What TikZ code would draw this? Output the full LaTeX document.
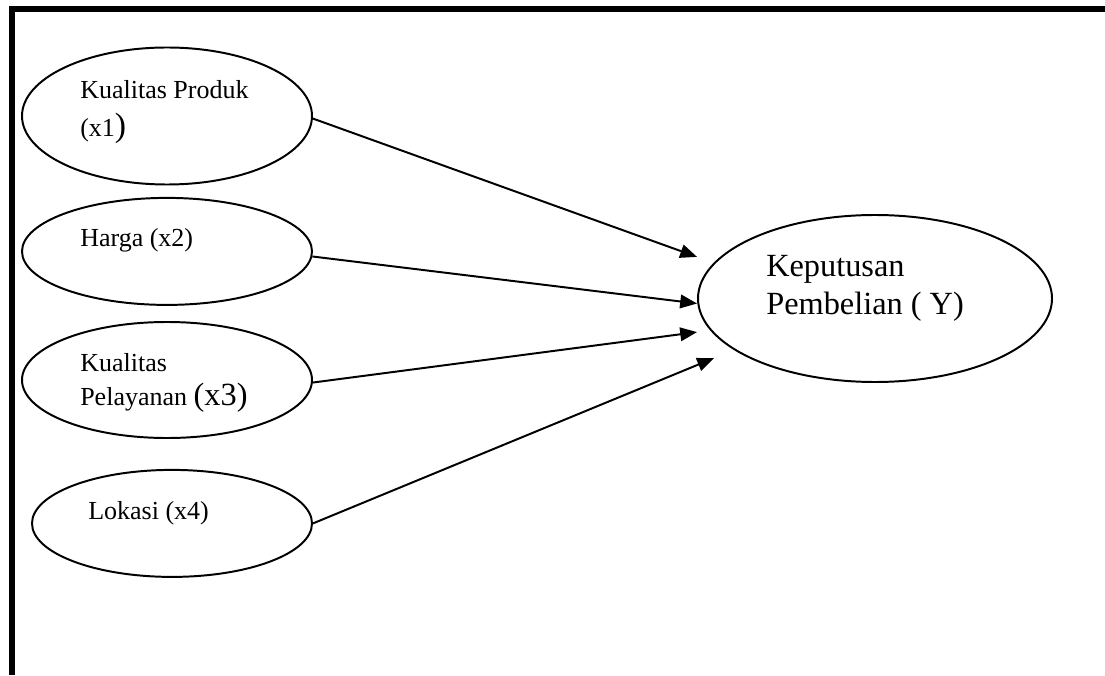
\documentclass[tikz,border=0pt]{standalone}
\usepackage{fontspec}
\setmainfont{Liberation Serif}
\usetikzlibrary{
    arrows.meta,
    shapes,
    calc,
    positioning
}
\tikzset{varnode/.style={ellipse, draw=black, line width=1.4pt, inner sep=0pt}}
\tikzset{lbl/.style={anchor=base west, inner sep=0pt, align=left, font=\fontsize{18.5}{24}\selectfont}}
\tikzset{biglbl/.style={anchor=base west, inner sep=0pt, align=left, font=\fontsize{23}{27}\selectfont}}
\tikzset{arr/.style={line width=1.4pt, -{Triangle[length=0.42cm, width=0.34cm]}}}

\begin{document}
\begin{tikzpicture}
                        \useasboundingbox (0, 0) rectangle (27.625, 16.875);

                        % frame
                        \draw[line width=4.3pt] (0.29, 0) -- (0.29, 16.64) -- (27.625, 16.64);

                        \node[varnode, minimum width=7.25cm, minimum height=3.425cm] (k1) at (4.175, 13.975) {};
                        \node[varnode, minimum width=7.25cm, minimum height=2.675cm] (k2) at (4.175, 10.59) {};
                        \node[varnode, minimum width=7.25cm, minimum height=2.9cm] (k3) at (4.175, 7.375) {};
                        \node[varnode, minimum width=7cm, minimum height=2.675cm] (k4) at (4.3, 3.79) {};
                        \node[varnode, minimum width=8.85cm, minimum height=4.175cm] (y) at (21.875, 9.4125) {};

                        % labels (base = last line)
                        \node[lbl] (k1t) at ($(k1) + (-2.175, -0.52)$) {Kualitas Produk\\[3pt](x1{\fontsize{24}{24}\selectfont)}};
                        \node[lbl] (k2t) at ($(k2) + (-2.175, 0.12)$) {Harga (x2)};
                        \node[lbl] (k3t) at ($(k3) + (-2.175, -0.625)$) {Kualitas\\Pelayanan {\fontsize{23}{24}\selectfont(x3)}};
                        \node[lbl] (k4t) at ($(k4) + (-2.1, 0.11)$) {Lokasi (x4)};
                        \node[biglbl] (yt) at ($(y) + (-2.725, -0.41)$) {Keputusan\\Pembelian ( Y)};

                        \coordinate (t1) at ($(y.west) + (0, 1.04)$);
                        \coordinate (t2) at ($(y.west) + (0, -0.125)$);
                        \coordinate (t3) at ($(y.west) + (0, -0.84)$);
                        \coordinate (t4) at ($(y.west) + (0.425, -1.49)$);

                        \draw[arr] (k1.-1.5) -- (t1);
                        \draw[arr] (k2.-2) -- (t2);
                        \draw[arr] (k3.-1) -- (t3);
                        \draw[arr] (k4.east) -- (t4);
                    \end{tikzpicture}
\end{document}
